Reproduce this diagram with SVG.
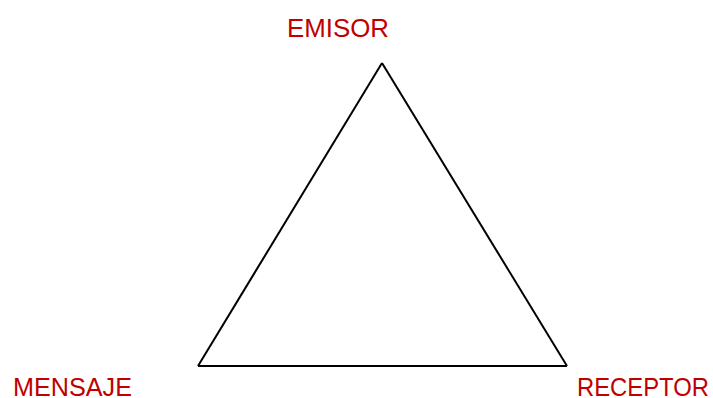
<svg xmlns="http://www.w3.org/2000/svg" width="713" height="398" viewBox="0 0 713 398">
<style>
.lbl{font-family:"Liberation Sans",Arial,sans-serif;font-size:26px;fill:#C00000}
.edge{fill:none;stroke:#000;stroke-width:2;stroke-linejoin:miter}
</style>
<rect width="713" height="398" fill="#fff"/>
<g id="connectors">
<path class="edge" d="M382,63 L567,366"/>
<path class="edge" d="M567,366 L198,366"/>
<path class="edge" d="M198,366 L382,63"/>
</g>
<g id="emisor"><text class="lbl" x="287" y="37" textLength="102" lengthAdjust="spacingAndGlyphs">EMISOR</text></g>
<g id="mensaje"><text class="lbl" x="13" y="396" textLength="119" lengthAdjust="spacingAndGlyphs">MENSAJE</text></g>
<g id="receptor"><text class="lbl" x="577" y="396" textLength="132" lengthAdjust="spacingAndGlyphs">RECEPTOR</text></g>
</svg>
